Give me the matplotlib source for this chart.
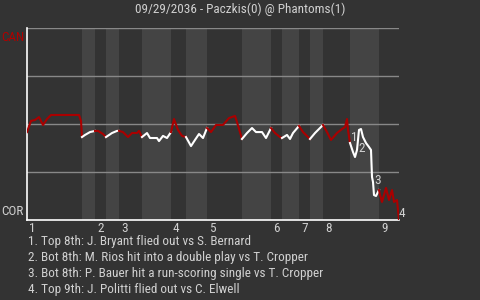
import matplotlib
matplotlib.use("Agg")
import matplotlib.pyplot as plt
import numpy as np

# game info
title = "09/29/2036 - Paczkis(0) @ Phantoms(1)"
top_team = "CAN"
bottom_team = "COR"

# win probability (% for CAN) by pitch number
pitch = [0, 2, 4, 6, 8, 10, 12, 26, 27, 27.5,
         29, 31.5, 34,
         35.5, 38, 39.5,
         42.5, 45, 46,
         48, 50.5, 52.5, 55, 56, 57.5,
         60, 61.5, 65, 66, 68, 70, 72,
         73.5, 75.5, 77.5, 79.5,
         82, 84, 86, 88, 90,
         92, 94.5, 98, 101, 104, 105, 107.5,
         110, 112.5, 114.5, 117.5, 119.5, 122,
         124, 126.5, 127.5,
         130, 131.5, 133, 136,
         138, 140.5, 141.5,
         144, 146, 148,
         150, 152, 155, 157.5, 159, 160, 160.5, 161.5,
         163, 164, 165, 166, 167, 168, 169.5, 171, 172, 172.5, 173, 173.5, 174.5, 176,
         176.5, 177.5, 179.5, 181, 182.5, 183.5, 185, 186]
winprob = [45.8, 51.6, 52.1, 53.6, 49.5, 52.6, 54.7, 54.7, 51.6, 43.2,
           44.3, 45.8, 46.4,
           46.4, 44.8, 43.2,
           45.3, 46.4, 46.4,
           45.8, 43.2, 45.3, 45.3, 46.4, 43.2,
           45.3, 42.7, 42.7, 41.1, 43.8, 42.7, 45.8,
           52.6, 46.9, 43.8, 43.2,
           38.5, 41.7, 44.8, 42.7, 47.9,
           45.8, 49.5, 49.5, 53.1, 54.2, 51.0, 42.2,
           45.3, 47.9, 45.8, 45.8, 42.7, 47.9,
           45.3, 43.2, 42.7,
           44.3, 42.2, 45.3, 49.0,
           45.8, 43.2, 42.2,
           45.3, 47.4, 49.5,
           45.8, 41.7, 45.3, 47.4, 48.4, 52.6, 46.9, 40.1,
           35.4, 32.8, 36.5, 46.9, 47.4, 43.2, 40.1, 38.0, 36.5, 22.4, 19.8, 13.0, 12.5, 15.6,
           13.0, 9.4, 16.7, 10.4, 15.6, 9.4, 10.4, 0.0]

# half-inning boundaries (pitch number)
inning_start = [0, 34, 46, 72, 90, 122, 136, 148, 176]
bottom_start = [27.5, 39.5, 57.5, 79.5, 107.5, 127.5, 141.5, 161.5]
game_end = 186

# key events
event_labels = ["1", "2", "3", "4"]
event_x = [163.5, 167.5, 175.5, 187.5]
event_y = [43.2, 37.0, 20.8, 3.6]
event_text = [
    "1. Top 8th: J. Bryant flied out vs S. Bernard",
    "2. Bot 8th: M. Rios hit into a double play vs T. Cropper",
    "3. Bot 8th: P. Bauer hit a run-scoring single vs T. Cropper",
    "4. Top 9th: J. Politti flied out vs C. Elwell",
]

bg = "#333333"
band = "#444444"
red = "#aa0000"
light = "#d0d0d0"

plt.rcParams['font.family'] = ['Liberation Sans Narrow', 'Roboto Condensed', 'DejaVu Sans']

fig = plt.figure(figsize=(4.8, 3.0), dpi=100, facecolor=bg)
ax = fig.add_axes([27 / 480, 80 / 300, 372 / 480, 192 / 300])
ax.set_facecolor(bg)
ax.set_xlim(0, game_end)
ax.set_ylim(0, 100)

# shade bottom halves
ends = inning_start[1:] + [game_end]
for b, e in zip(bottom_start, ends):
    ax.axvspan(b, e, color=band, lw=0, zorder=0)

for g in [25, 50, 75, 100]:
    ax.axhline(g, color="#888888", lw=1, zorder=1)

# line coloured by half inning
x = np.array(pitch)
y = np.array(winprob)
halves = []
for i in range(len(inning_start)):
    halves.append((inning_start[i], bottom_start[i] if i < len(bottom_start) else game_end, red))
    if i < len(bottom_start):
        halves.append((bottom_start[i], ends[i], "white"))
for a, b, c in halves:
    idx = np.where((x > a) & (x <= b))[0]
    if a == 0:
        idx = np.where(x <= b)[0]
    if len(idx) == 0:
        continue
    if idx[0] > 0:
        idx = np.concatenate([[idx[0] - 1], idx])
    ax.plot(x[idx], y[idx], color=c, lw=1.5, zorder=3)

for lab, ex, ey in zip(event_labels, event_x, event_y):
    ax.text(ex, ey, lab, color=light, fontsize=9.5, ha="center", va="center",
            zorder=4, clip_on=False)

for i, s in enumerate(inning_start):
    ax.text(s + 1, -1.2, str(i + 1), color=light, fontsize=9.5, ha="left", va="top")

ax.text(-0.008, 0.985, top_team, transform=ax.transAxes, color="#b00000", fontsize=9.5,
        ha="right", va="top")
ax.text(-0.008, 0.012, bottom_team, transform=ax.transAxes, color=light, fontsize=9.5,
        ha="right", va="bottom")

for sp in ["top", "right"]:
    ax.spines[sp].set_visible(False)
for sp in ["left", "bottom"]:
    ax.spines[sp].set_color("white")
    ax.spines[sp].set_linewidth(1.2)
ax.set_xticks([])
ax.set_yticks([])

fig.text(0.5, 1 - 9 / 300, title, color=light, fontsize=9.5, ha="center", va="center")
for i, t in enumerate(event_text):
    fig.text(28 / 480, 1 - (241 + 16 * i) / 300, t, color=light, fontsize=9.5,
             ha="left", va="center")

fig.savefig("out.png", dpi=100, facecolor=bg)
